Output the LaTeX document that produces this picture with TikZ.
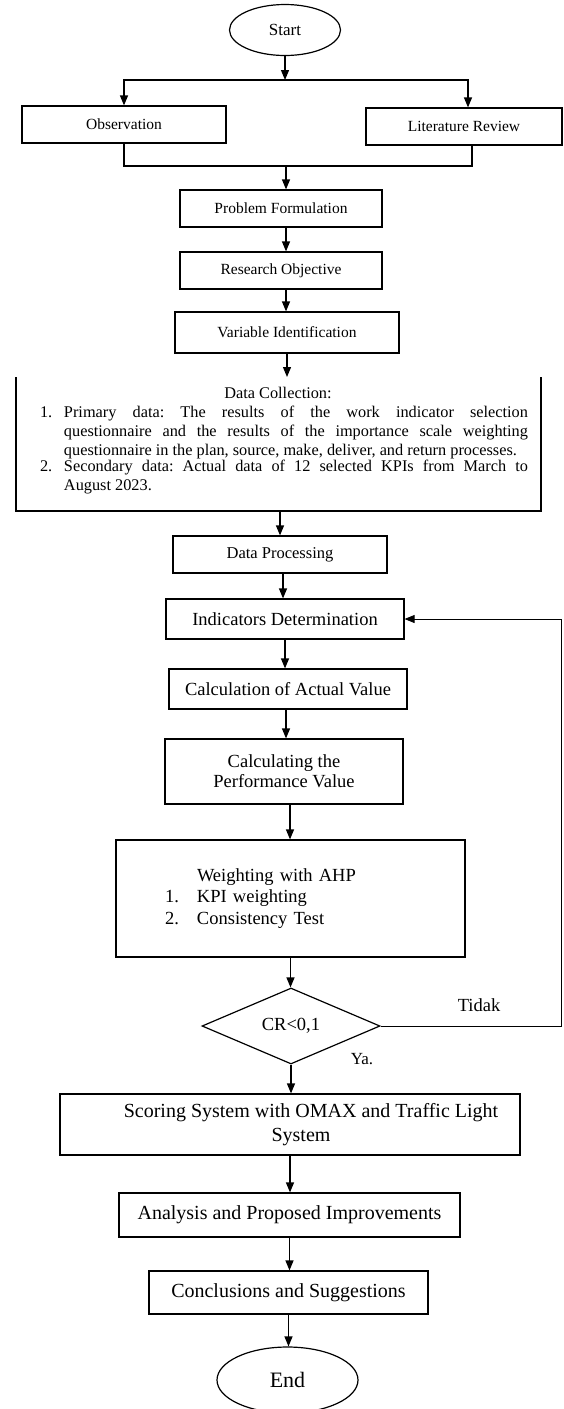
\documentclass[tikz,border=0pt]{standalone}
\usepackage{fontspec}
\setmainfont{Liberation Serif}
\usetikzlibrary{shapes,arrows.meta}
\frenchspacing

\begin{document}
\begin{tikzpicture}[x=1pt,y=-1pt,line width=1.2pt,
  box/.style={draw,rectangle,inner sep=0pt},
  small/.style={font=\fontsize{15.5}{18}\selectfont},
  big/.style={font=\fontsize{18.5}{20}\selectfont},
  large/.style={font=\fontsize{20}{24}\selectfont},
  arr/.style={-{Triangle[length=10pt,width=8pt]}}]
\useasboundingbox (0,0) rectangle (563,1409);
\node[draw,ellipse,minimum width=111pt,minimum height=51pt,inner sep=0pt,font=\fontsize{17}{20}\selectfont] (start) at (285,30) {Start};
\node[box,small,minimum width=204pt,minimum height=37pt] (obs) at (124,124.5) {Observation};
\node[box,small,minimum width=196pt,minimum height=37pt] (litrev) at (464,126.5) {Literature Review};
\node[box,small,minimum width=202pt,minimum height=37pt] (probform) at (281,208.5) {Problem Formulation};
\node[box,small,minimum width=202pt,minimum height=37pt] (resobj) at (281,270.5) {Research Objective};
\node[box,small,minimum width=224pt,minimum height=41pt] (varid) at (287,332.5) {Variable Identification};
\coordinate (dctl) at (16,377);
\coordinate (dcbr) at (541,511);
\node[anchor=north,inner sep=0pt,text width=488pt,align=justify,font=\fontsize{16.3}{19}\selectfont] (datacol) at (284,387) {%
\makebox[476pt]{Data Collection:}\par
\makebox[24pt][l]{1.}\parbox[t]{464pt}{Primary data: The results of the work indicator selection\linebreak questionnaire and the results of the importance scale weighting\linebreak questionnaire in the plan, source, make, deliver, and return processes.}\par
\makebox[24pt][l]{2.}\parbox[t]{464pt}{Secondary data: Actual data of 12 selected KPIs from March to\linebreak August 2023.}};
\node[box,font=\fontsize{16.5}{19}\selectfont,minimum width=214pt,minimum height=37pt] (dataproc) at (280,554.5) {Data Processing};
\node[box,big,minimum width=238pt,minimum height=40pt] (inddet) at (285,619) {Indicators Determination};
\node[box,big,minimum width=238pt,minimum height=40pt] (calcact) at (288,689) {Calculation of Actual Value};
\node[box,big,align=center,minimum width=238pt,minimum height=65pt] (calcperf) at (284,771.5) {Calculating the\\Performance Value};
\node[box,font=\fontsize{18.5}{21.5}\selectfont,align=left,text width=300pt,minimum width=349pt,minimum height=117pt] (weight) at (290.5,898.5) {\hspace*{56.5pt}Weighting with AHP\\\hspace*{24.5pt}\makebox[32pt][l]{1.}KPI weighting\\\hspace*{24.5pt}\makebox[32pt][l]{2.}Consistency Test};
\node[draw,diamond,shape aspect=2.3,minimum width=178pt,minimum height=76pt,inner sep=0pt,big] (crit) at (291,1026) {CR<0,1};
\node[big] (tidak) at (479,1005) {Tidak};
\node[font=\fontsize{17}{20}\selectfont] (ya) at (362,1059) {Ya.};
\node[box,large,align=center,minimum width=460pt,minimum height=61pt] (scoring) at (290,1124.5) {\hspace*{42pt}Scoring System with OMAX and Traffic Light\\\hspace*{22pt}System};
\node[box,large,minimum width=341pt,minimum height=44pt] (analysis) at (289.5,1215) {Analysis and Proposed Improvements};
\node[box,large,minimum width=279pt,minimum height=43pt] (concl) at (288.5,1292.5) {Conclusions and Suggestions};
\node[draw,ellipse,minimum width=141pt,minimum height=66pt,inner sep=0pt,font=\fontsize{22}{24}\selectfont] (finish) at (287.5,1380) {End};
\coordinate (split) at (285,80);
\coordinate (merge) at (286,166);
\coordinate (loop) at (561,619);
\draw[arr] (start.south) -- (split);
\draw[arr] (split) -| (obs.north);
\draw[arr] (split) -| ([xshift=4pt]litrev.north);
\draw (obs.south) |- (merge);
\draw ([xshift=8pt]litrev.south) |- (merge);
\draw[arr] (merge) -- (merge |- probform.north);
\draw[arr] ([xshift=5pt]probform.south) -- ([xshift=5pt]probform.south |- resobj.north);
\draw[arr] ([xshift=5pt]resobj.south) -- ([xshift=5pt]resobj.south |- varid.north);
\draw[arr] (varid.south) -- (varid.south |- dctl);
\draw (dctl) |- (dcbr) -- (dcbr |- dctl);
\draw[arr] (dataproc.north |- dcbr) -- (dataproc.north);
\draw[arr] ([xshift=3pt]dataproc.south) -- ([xshift=3pt]dataproc.south |- inddet.north);
\draw[arr] (inddet.south) -- (inddet.south |- calcact.north);
\draw[arr] ([xshift=-2pt]calcact.south) -- ([xshift=-2pt]calcact.south |- calcperf.north);
\draw[arr] ([xshift=6pt]calcperf.south) -- ([xshift=6pt]calcperf.south |- weight.north);
\draw[arr] (weight.south) -- (weight.south |- crit.north);
\draw[arr] (crit.south) -- (crit.south |- scoring.north);
\draw[arr] (scoring.south) -- (scoring.south |- analysis.north);
\draw[arr] (analysis.south) -- (analysis.south |- concl.north);
\draw[arr] (concl.south) -- (concl.south |- finish.north);
\draw[arr,line width=0.8pt] (crit.east) -| (loop) -- (inddet.east);
\end{tikzpicture}
\end{document}
